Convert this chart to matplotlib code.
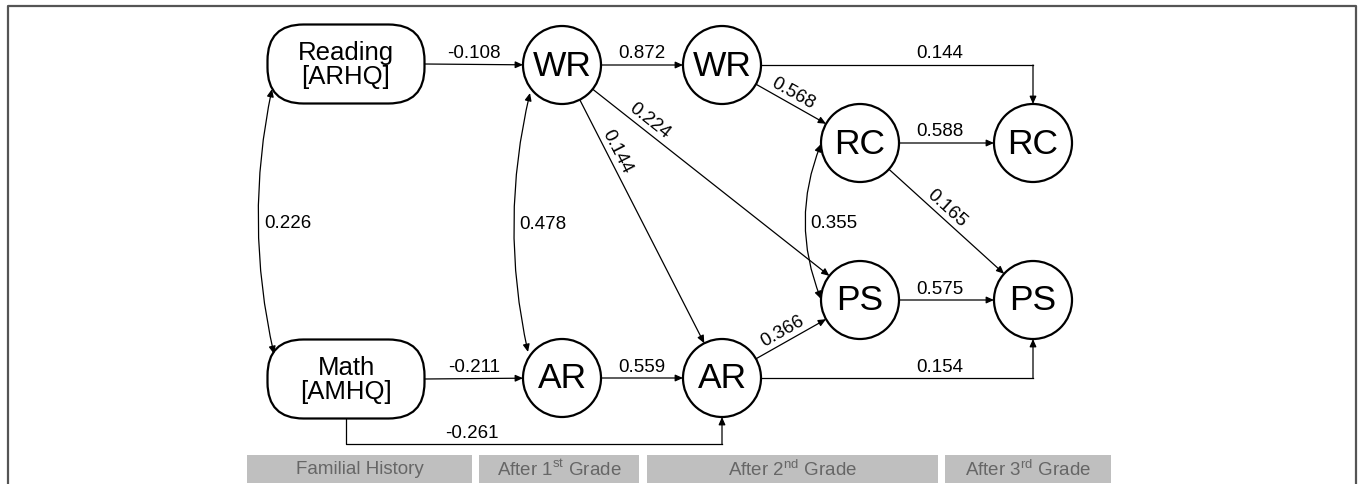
import numpy as np
import matplotlib.pyplot as plt
from matplotlib.patches import Circle, FancyBboxPatch, FancyArrowPatch, Rectangle

plt.rcParams["font.family"] = ["Liberation Sans", "DejaVu Sans"]
plt.rcParams["mathtext.fontset"] = "custom"
plt.rcParams["mathtext.rm"] = "Liberation Sans"

# nodes
node_ids = ["read", "math", "wr1", "ar1", "wr2", "ar2", "rc2", "ps2", "rc3", "ps3"]
node_labels = ["Reading\n[ARHQ]", "Math\n[AMHQ]", "WR", "AR", "WR", "AR", "RC", "PS", "RC", "PS"]

# straight paths (source, target, coefficient)
direct_src = ["read", "math", "wr1", "ar1", "rc2", "ps2", "wr2", "wr1", "wr1", "ar2", "rc2"]
direct_dst = ["wr1", "ar1", "wr2", "ar2", "rc3", "ps3", "rc2", "ar2", "ps2", "ps2", "ps3"]
direct_coef = ["-0.108", "-0.211", "0.872", "0.559", "0.588", "0.575",
               "0.568", "0.144", "0.224", "0.366", "0.165"]

# elbow paths
elbow_src = ["wr2", "ar2", "math"]
elbow_dst = ["rc3", "ps3", "ar2"]
elbow_coef = ["0.144", "0.154", "-0.261"]

# correlations
corr_a = ["read", "wr1", "rc2"]
corr_b = ["math", "ar1", "ps2"]
corr_coef = ["0.226", "0.478", "0.355"]

stage_labels = ["Familial History", r"After 1$^{\rm st}$ Grade",
                r"After 2$^{\rm nd}$ Grade", r"After 3$^{\rm rd}$ Grade"]

# ---- layout (pixel space) ----
pos = {"read": (346, 64), "math": (346, 379), "wr1": (562, 65), "ar1": (562, 378),
       "wr2": (722, 65), "ar2": (722, 378), "rc2": (860, 143), "ps2": (860, 300),
       "rc3": (1033, 143), "ps3": (1033, 300)}
R = 39
BOX_W, BOX_H = 157, 79

diag_label_pos = {("wr2", "rc2"): (793, 94), ("wr1", "ar2"): (617, 152),
                  ("wr1", "ps2"): (650, 121), ("ar2", "ps2"): (783, 331),
                  ("rc2", "ps3"): (947, 209)}
horiz_label_x = {("rc2", "rc3"): 940, ("ps2", "ps3"): 940}
elbow_label_pos = [(940, 53), (940, 368), (472, 433)]
corr_ends = [((272, 89), (274, 354)), ((530, 93), (528, 352)), ((821, 144), (821, 299))]
corr_rad = [0.11, 0.115, 0.2]
corr_label_x = [264, 519, 810]
stage_x = [(247, 472), (479, 639), (647, 938), (945, 1111)]

ARROW = "-|>,head_length=0.45,head_width=0.2"
FS = 13.5


def edge_point(node, toward):
    cx, cy = pos[node]
    dx, dy = toward[0] - cx, toward[1] - cy
    if node in ("read", "math"):
        return cx + np.sign(dx) * BOX_W / 2, cy
    d = np.hypot(dx, dy)
    return cx + R * dx / d, cy + R * dy / d


def arrow(ax, p0, p1, style=ARROW, cs="arc3"):
    ax.add_patch(FancyArrowPatch(p0, p1, arrowstyle=style, connectionstyle=cs,
                                 mutation_scale=10, lw=0.9, color="black",
                                 shrinkA=0, shrinkB=0))


fig = plt.figure(figsize=(13.58, 4.84), dpi=100)
ax = fig.add_axes([0, 0, 1, 1])
ax.set_xlim(0, 1358)
ax.set_ylim(484, 0)
ax.axis("off")

# frame
ax.plot([8, 8, 1356, 1356], [484, 6, 6, 484], color="#555555", lw=1.6)

# nodes
for nid, lab in zip(node_ids, node_labels):
    x, y = pos[nid]
    if nid in ("read", "math"):
        ax.add_patch(FancyBboxPatch((x - BOX_W / 2, y - BOX_H / 2), BOX_W, BOX_H,
                                    boxstyle="round,pad=0,rounding_size=36",
                                    fc="white", ec="black", lw=1.6))
        ax.text(x, y + 1, lab, ha="center", va="center", fontsize=18.5, linespacing=1.0)
    else:
        ax.add_patch(Circle((x, y), R, fc="white", ec="black", lw=1.6))
        ax.text(x, y + 1, lab, ha="center", va="center", fontsize=25.5)

# straight arrows
for s, t, c in zip(direct_src, direct_dst, direct_coef):
    p0 = edge_point(s, pos[t])
    p1 = edge_point(t, pos[s])
    arrow(ax, p0, p1)
    if (s, t) in diag_label_pos:
        lx, ly = diag_label_pos[(s, t)]
        ang = -np.degrees(np.arctan2(p1[1] - p0[1], p1[0] - p0[0]))
        ax.text(lx, ly, c, ha="center", va="center", rotation=ang,
                rotation_mode="anchor", fontsize=FS)
    else:
        lx = horiz_label_x.get((s, t), (p0[0] + p1[0]) / 2)
        ax.text(lx, p0[1] - 11, c, ha="center", va="center", fontsize=FS)

# elbow arrows
for (s, t, c), (lx, ly) in zip(zip(elbow_src, elbow_dst, elbow_coef), elbow_label_pos):
    sx, sy = pos[s]
    tx, ty = pos[t]
    if s == "math":
        y0 = sy + BOX_H / 2
        ylow = 444
        ax.plot([sx, sx, tx], [y0, ylow, ylow], color="black", lw=0.9)
        arrow(ax, (tx, ylow), (tx, ty + R))
    else:
        ax.plot([sx + R, tx], [sy, sy], color="black", lw=0.9)
        end = ty - R if ty > sy else ty + R
        arrow(ax, (tx, sy), (tx, end))
    ax.text(lx, ly, c, ha="center", va="center", fontsize=FS)

# correlations
for (pa, pb), rad, lx, c in zip(corr_ends, corr_rad, corr_label_x, corr_coef):
    arrow(ax, pa, pb, style="<|-|>,head_length=0.45,head_width=0.2",
          cs=f"arc3,rad={rad}")
    ax.text(lx, (pa[1] + pb[1]) / 2 + 2, c, ha="left", va="center", fontsize=FS)

# stage bars
for (x0, x1), lab in zip(stage_x, stage_labels):
    ax.add_patch(Rectangle((x0, 455), x1 - x0, 28, fc="#bfbfbf", ec="none"))
    ax.text((x0 + x1) / 2, 470, lab, ha="center", va="center", fontsize=13.5,
            color="#666666")

fig.savefig("out.png", dpi=100)
